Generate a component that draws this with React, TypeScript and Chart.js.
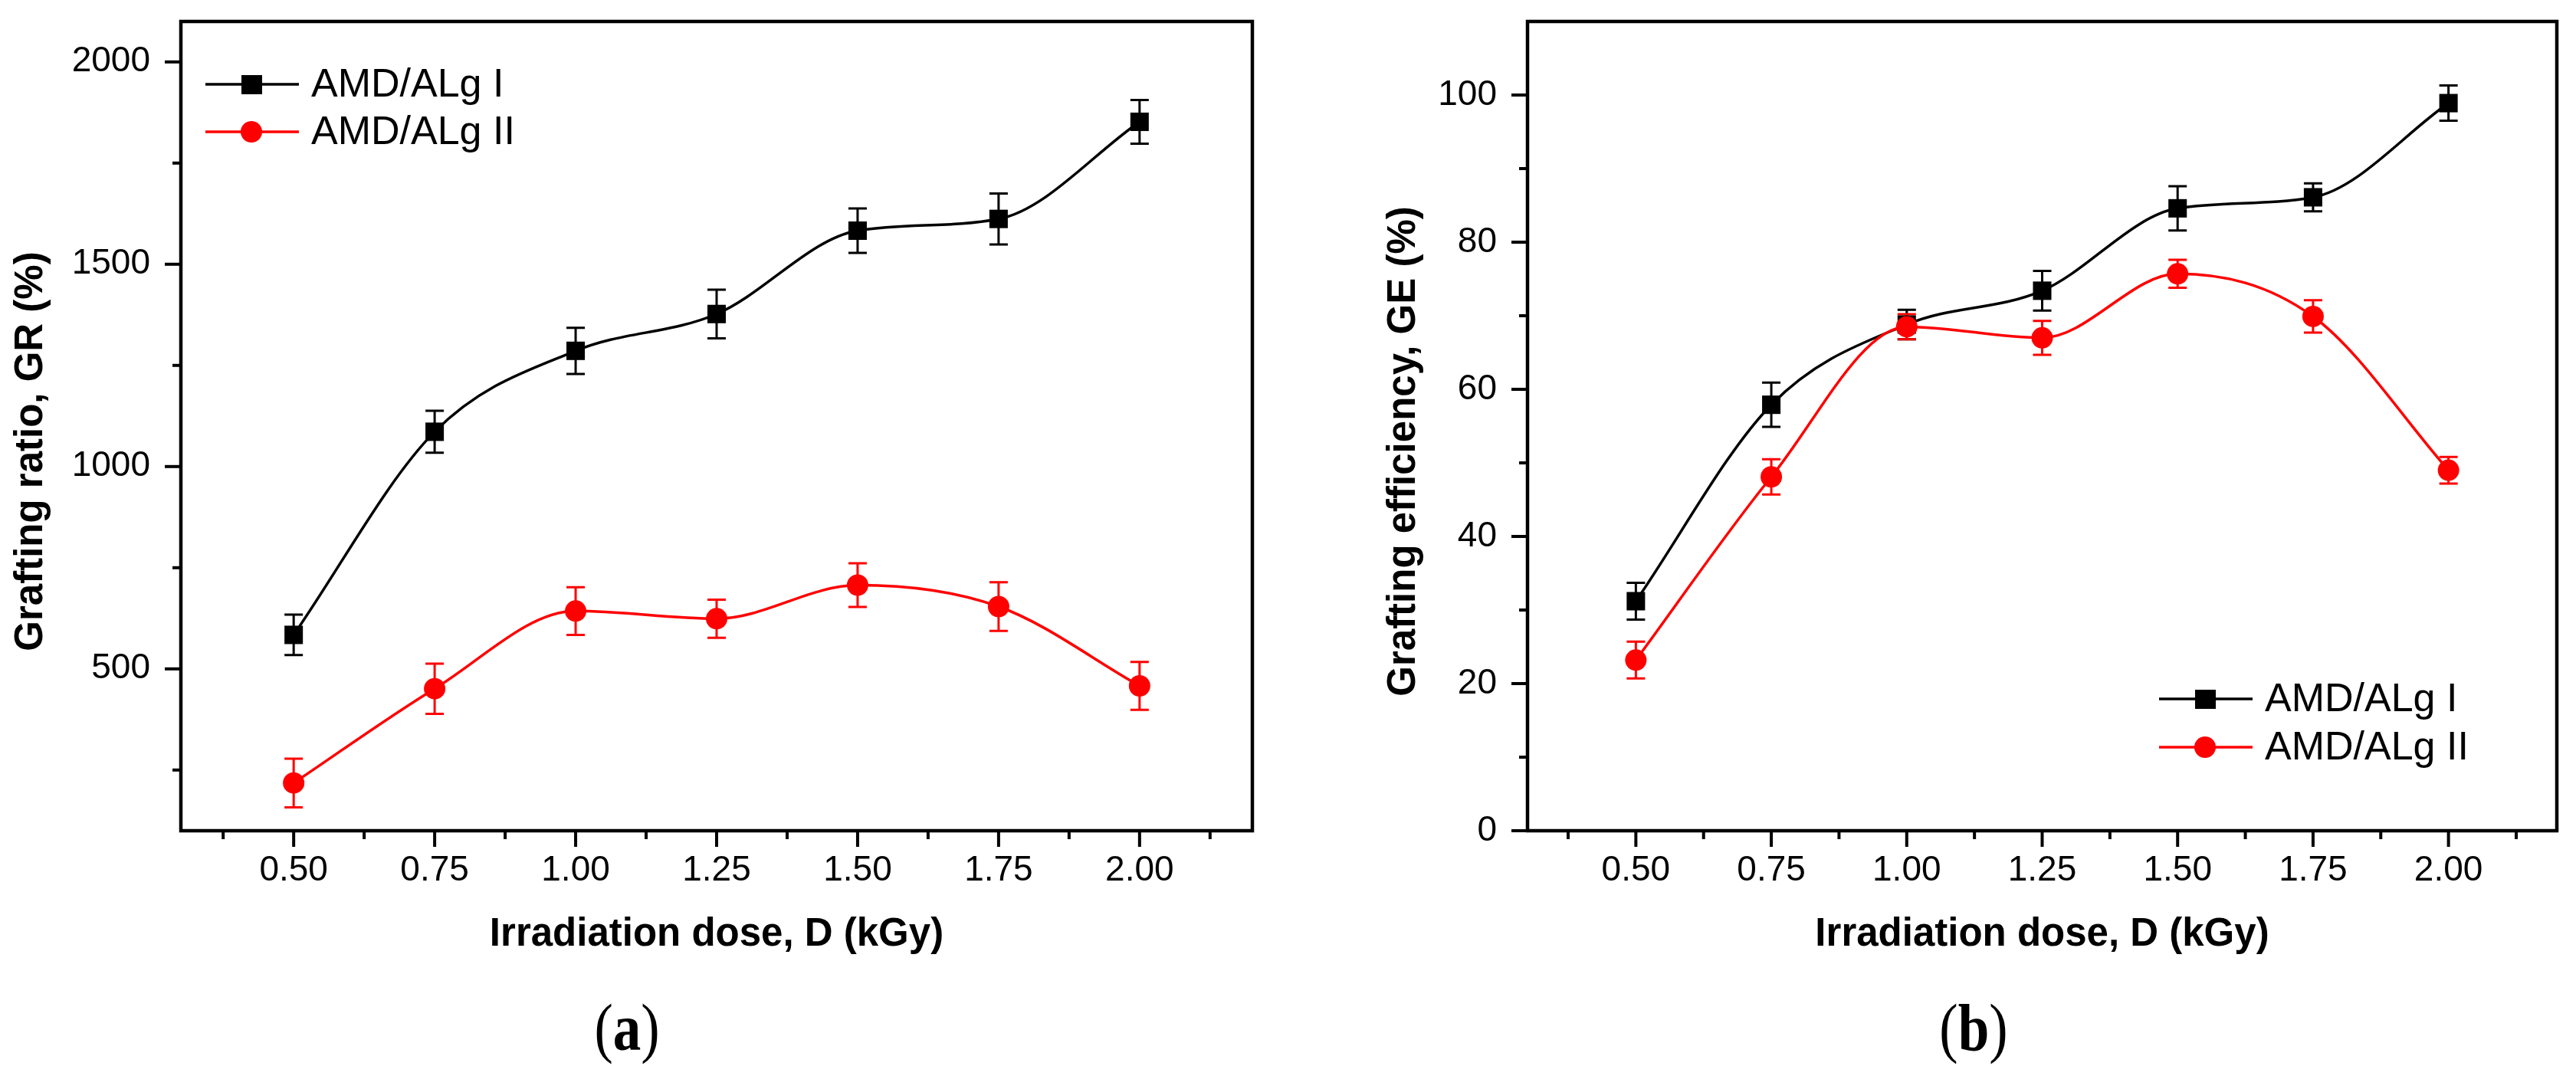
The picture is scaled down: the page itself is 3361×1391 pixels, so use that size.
import { useEffect, useRef } from "react"
import { Chart, registerables } from "chart.js"
import type { Plugin } from "chart.js"

Chart.register(...registerables)

// values
const doses = [0.5, 0.75, 1.0, 1.25, 1.5, 1.75, 2.0]
const doseTicks = [0.5, 0.75, 1.0, 1.25, 1.5, 1.75, 2.0]
const doseMinorTicks = [0.375, 0.625, 0.875, 1.125, 1.375, 1.625, 1.875, 2.125]

// (a) grafting ratio, GR (%)
const ratioI = [584, 1086, 1286, 1377, 1583, 1612, 1852]
const ratioIErr = [50, 52, 57, 60, 55, 63, 54]
const ratioII = [218, 451, 643, 624, 707, 654, 458]
const ratioIIErr = [60, 62, 59, 47, 54, 60, 59]
const ratioTicks = [500, 1000, 1500, 2000]
const ratioMinorTicks = [250, 750, 1250, 1750]

// (b) grafting efficiency, GE (%)
const effI = [31.2, 57.9, 68.8, 73.4, 84.6, 86.1, 98.9]
const effIErr = [2.5, 3, 2, 2.7, 3, 1.9, 2.4]
const effII = [23.2, 48.1, 68.5, 67.0, 75.7, 69.9, 49.0]
const effIIErr = [2.5, 2.4, 1.7, 2.3, 1.9, 2.2, 1.8]
const effTicks = [0, 20, 40, 60, 80, 100]
const effMinorTicks = [10, 30, 50, 70, 90]

const seriesNames = ["AMD/ALg I", "AMD/ALg II"]

const SANS = "'Liberation Sans', Arial, sans-serif"

type Pt = { x: number; y: number }

// box around the plot plus major/minor tick marks pointing outwards
const framePlugin = (xMinor: number[], yMinor: number[]): Plugin<"line"> => ({
  id: "frame",
  afterDraw(chart) {
    const { ctx, chartArea: a, scales } = chart
    const xs = scales.x
    const ys = scales.y
    ctx.save()
    ctx.strokeStyle = "#000"
    ctx.lineWidth = 4.5
    ctx.strokeRect(a.left, a.top, a.right - a.left, a.bottom - a.top)
    ctx.lineWidth = 4
    const seg = (x1: number, y1: number, x2: number, y2: number) => {
      ctx.beginPath()
      ctx.moveTo(x1, y1)
      ctx.lineTo(x2, y2)
      ctx.stroke()
    }
    xs.ticks.forEach((t) => {
      const px = xs.getPixelForValue(t.value)
      seg(px, a.bottom, px, a.bottom + 21)
    })
    xMinor.forEach((v) => {
      const px = xs.getPixelForValue(v)
      seg(px, a.bottom, px, a.bottom + 11)
    })
    ys.ticks.forEach((t) => {
      const py = ys.getPixelForValue(t.value)
      seg(a.left, py, a.left - 21, py)
    })
    yMinor.forEach((v) => {
      const py = ys.getPixelForValue(v)
      seg(a.left, py, a.left - 11, py)
    })
    ctx.restore()
  },
})

const errorBarPlugin = (errors: number[][]): Plugin<"line"> => ({
  id: "errorBars",
  beforeDatasetsDraw(chart) {
    const { ctx, scales } = chart
    ctx.save()
    ctx.lineWidth = 3
    chart.data.datasets.forEach((ds, i) => {
      ctx.strokeStyle = ds.borderColor as string
      ;(ds.data as unknown as Pt[]).forEach((p, j) => {
        const px = scales.x.getPixelForValue(p.x)
        const top = scales.y.getPixelForValue(p.y + errors[i][j])
        const bot = scales.y.getPixelForValue(p.y - errors[i][j])
        ctx.beginPath()
        ctx.moveTo(px, top)
        ctx.lineTo(px, bot)
        ctx.moveTo(px - 12, top)
        ctx.lineTo(px + 12, top)
        ctx.moveTo(px - 12, bot)
        ctx.lineTo(px + 12, bot)
        ctx.stroke()
      })
    })
    ctx.restore()
  },
})

// rotated y title, sits a little below the middle of the axis as in the figure
const yTitlePlugin = (text: string, x: number): Plugin<"line"> => ({
  id: "yTitle",
  afterDraw(chart) {
    const { ctx, chartArea: a } = chart
    ctx.save()
    ctx.translate(x, (a.top + a.bottom) / 2 + 33)
    ctx.rotate(-Math.PI / 2)
    ctx.fillStyle = "#000"
    ctx.font = `bold 51px ${SANS}`
    ctx.textAlign = "center"
    ctx.textBaseline = "middle"
    ctx.fillText(text, 0, 0)
    ctx.restore()
  },
})

// legend drawn inside the plot: line + marker + label
const legendPlugin = (placeAt: "topLeft" | "bottomRight"): Plugin<"line"> => ({
  id: "insideLegend",
  afterDraw(chart) {
    const { ctx, chartArea: a } = chart
    const x0 = placeAt === "topLeft" ? a.left + 32 : a.left + 824
    const rows = placeAt === "topLeft" ? [a.top + 82, a.top + 144] : [a.bottom - 172, a.bottom - 109]
    ctx.save()
    chart.data.datasets.forEach((ds, i) => {
      const y = rows[i]
      const color = ds.borderColor as string
      ctx.strokeStyle = color
      ctx.fillStyle = color
      ctx.lineWidth = 3.5
      ctx.beginPath()
      ctx.moveTo(x0, y)
      ctx.lineTo(x0 + 122, y)
      ctx.stroke()
      const mx = x0 + 60
      if (i === 0) {
        ctx.fillRect(mx - 13, y - 12, 27, 25)
      } else {
        ctx.beginPath()
        ctx.arc(mx, y, 14, 0, Math.PI * 2)
        ctx.fill()
      }
      ctx.fillStyle = "#000"
      ctx.font = `52px ${SANS}`
      ctx.textAlign = "left"
      ctx.textBaseline = "middle"
      ctx.fillText(ds.label as string, x0 + 138, y + 2)
    })
    ctx.restore()
  },
})

type PanelProps = {
  left: number
  width: number
  padLeft: number
  padRight: number
  yAxisWidth: number
  yMin: number
  yMax: number
  yTicks: number[]
  yMinor: number[]
  yTitle: string
  yTitleX: number
  seriesI: number[]
  errI: number[]
  seriesII: number[]
  errII: number[]
  legend: "topLeft" | "bottomRight"
  caption: string
  captionX: number
}

function Panel(props: PanelProps) {
  const chartRef = useRef<HTMLCanvasElement>(null)
  const chartInstance = useRef<Chart | null>(null)

  useEffect(() => {
    if (!chartRef.current) return
    if (chartInstance.current) chartInstance.current.destroy()
    const ctx = chartRef.current.getContext("2d")
    if (!ctx) return

    chartInstance.current = new Chart(ctx, {
      type: "line",
      data: {
        datasets: [
          {
            label: seriesNames[0],
            data: props.seriesI.map((v, i) => ({ x: doses[i], y: v })),
            borderColor: "#000000",
            backgroundColor: "#000000",
            borderWidth: 3.5,
            pointStyle: "rect",
            pointRadius: 17,
            pointBorderWidth: 0,
            cubicInterpolationMode: "monotone",
            order: 1,
          },
          {
            label: seriesNames[1],
            data: props.seriesII.map((v, i) => ({ x: doses[i], y: v })),
            borderColor: "#ff0000",
            backgroundColor: "#ff0000",
            borderWidth: 3.5,
            pointStyle: "circle",
            pointRadius: 14,
            pointBorderWidth: 0,
            cubicInterpolationMode: "monotone",
            order: 0,
          },
        ],
      },
      options: {
        animation: false,
        responsive: true,
        maintainAspectRatio: false,
        layout: {
          autoPadding: false,
          padding: { left: props.padLeft, right: props.padRight, top: 28, bottom: 140 },
        },
        scales: {
          x: {
            type: "linear",
            min: 0.3,
            max: 2.2,
            afterBuildTicks: (s) => {
              s.ticks = doseTicks.map((v) => ({ value: v }))
            },
            afterFit: (s) => {
              s.height = 167
              s.paddingLeft = 0
              s.paddingRight = 0
            },
            grid: { display: false, drawTicks: false },
            border: { display: false },
            ticks: {
              padding: 25,
              color: "#000",
              autoSkip: false,
              maxRotation: 0,
              font: { family: SANS, size: 46 },
              callback: (v) => Number(v).toFixed(2),
            },
            title: {
              display: true,
              text: "Irradiation dose, D (kGy)",
              color: "#000",
              padding: 0,
              font: { family: SANS, size: 51, weight: "bold" },
            },
          },
          y: {
            type: "linear",
            min: props.yMin,
            max: props.yMax,
            afterBuildTicks: (s) => {
              s.ticks = props.yTicks.map((v) => ({ value: v }))
            },
            afterFit: (s) => {
              s.width = props.yAxisWidth
              s.paddingTop = 0
              s.paddingBottom = 0
            },
            grid: { display: false, drawTicks: false },
            border: { display: false },
            ticks: {
              padding: 40,
              color: "#000",
              font: { family: SANS, size: 46 },
              callback: (v) => String(v),
            },
            title: { display: false },
          },
        },
        plugins: {
          legend: { display: false },
          tooltip: { enabled: false },
        },
      },
      plugins: [
        errorBarPlugin([props.errI, props.errII]),
        framePlugin(doseMinorTicks, props.yMinor),
        yTitlePlugin(props.yTitle, props.yTitleX),
        legendPlugin(props.legend),
      ],
    })

    return () => {
      if (chartInstance.current) {
        chartInstance.current.destroy()
        chartInstance.current = null
      }
    }
  }, [])

  return (
    <>
      <div style={{ position: "absolute", left: props.left, top: 0, width: props.width, height: 1391 }}>
        <canvas ref={chartRef}></canvas>
      </div>
      <div
        style={{
          position: "absolute",
          left: props.captionX - 100,
          top: 1341 - 50,
          width: 200,
          height: 100,
          lineHeight: "100px",
          textAlign: "center",
          fontFamily: "'Liberation Serif', 'Times New Roman', serif",
          fontSize: 86,
          color: "#000",
          transform: "scaleX(0.85)",
        }}
      >
        (<b>{props.caption}</b>)
      </div>
    </>
  )
}

export default function App() {
  return (
    <div style={{ position: "absolute", left: 0, top: 0, width: 3361, height: 1391, background: "#fff", overflow: "hidden" }}>
      <Panel
        left={0}
        width={1700}
        padLeft={0}
        padRight={66}
        yAxisWidth={236}
        yMin={100}
        yMax={2100}
        yTicks={ratioTicks}
        yMinor={ratioMinorTicks}
        yTitle="Grafting ratio, GR (%)"
        yTitleX={41}
        seriesI={ratioI}
        errI={ratioIErr}
        seriesII={ratioII}
        errII={ratioIIErr}
        legend="topLeft"
        caption="a"
        captionX={818}
      />
      <Panel
        left={1700}
        width={1661}
        padLeft={94}
        padRight={25}
        yAxisWidth={199}
        yMin={0}
        yMax={110}
        yTicks={effTicks}
        yMinor={effMinorTicks}
        yTitle="Grafting efficiency, GE (%)"
        yTitleX={132}
        seriesI={effI}
        errI={effIErr}
        seriesII={effII}
        errII={effIIErr}
        legend="bottomRight"
        caption="b"
        captionX={2575}
      />
    </div>
  )
}
